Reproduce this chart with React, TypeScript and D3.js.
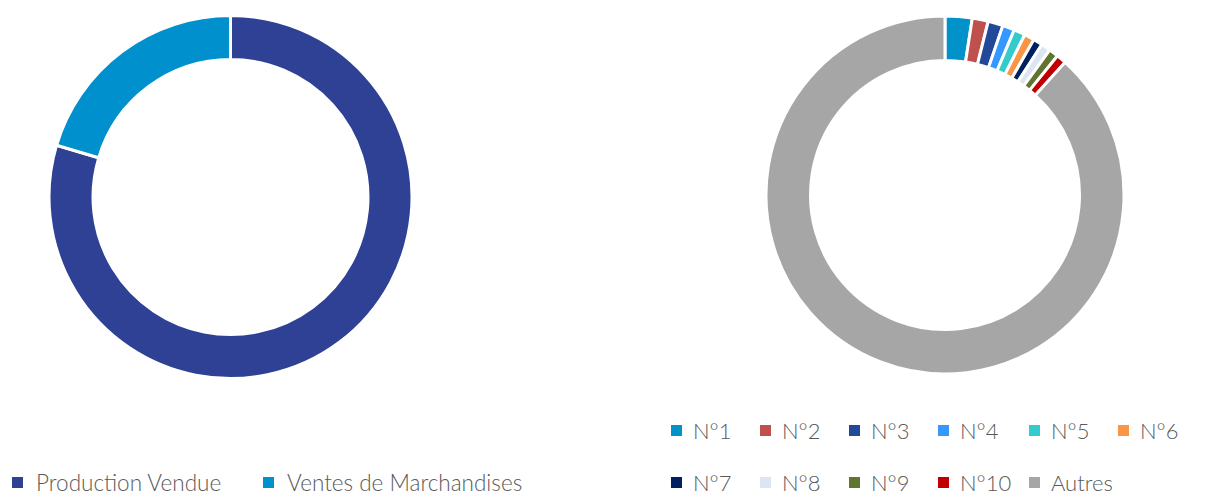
import React from "react";
import * as d3 from "d3";

const leftCategories = ["Production Vendue", "Ventes de Marchandises"];
const leftValues = [79.6, 20.4];
const leftColors = ["#2E4194", "#0090CD"];

const rightCategories = ["N°1", "N°2", "N°3", "N°4", "N°5", "N°6", "N°7", "N°8", "N°9", "N°10", "Autres"];
const rightValues = [2.44, 1.44, 1.36, 1.08, 1.03, 0.92, 0.83, 0.86, 0.86, 0.89, 88.29];
const rightColors = ["#0092C9", "#C0504D", "#22489A", "#3399FF", "#33CCCC", "#F79646", "#002060", "#DCE6F2", "#5F7530", "#C00000", "#A6A6A6"];

const FONT = "Lato, 'Open Sans', sans-serif";
const TEXT_COLOR = "#595959";

function Donut({ cx, cy, outer, inner, values, colors }: { cx: number; cy: number; outer: number; inner: number; values: number[]; colors: string[] }) {
  const pie = d3.pie<number>().sort(null).value((d) => d).startAngle(0).endAngle(2 * Math.PI);
  const arc = d3.arc<d3.PieArcDatum<number>>().innerRadius(inner).outerRadius(outer);
  const arcs = pie(values);
  return (
    <g transform={`translate(${cx},${cy})`}>
      {arcs.map((a, i) => (
        <path key={i} d={arc(a) || ""} fill={colors[i]} stroke="#ffffff" strokeWidth={3} strokeLinejoin="miter" />
      ))}
    </g>
  );
}

export default function App() {
  const colX = [671, 760, 849, 938, 1029, 1118];
  return (
    <svg width={1217} height={495} style={{ position: "absolute", left: 0, top: 0 }} fontFamily={FONT}>
      <rect width={1217} height={495} fill="#ffffff" />
      <Donut cx={230.5} cy={197} outer={181.5} inner={137.5} values={leftValues} colors={leftColors} />
      <Donut cx={945} cy={195} outer={179} inner={134.5} values={rightValues} colors={rightColors} />

      {/* left legend */}
      {leftCategories.map((c, i) => {
        const x = [12, 263][i];
        return (
          <g key={c}>
            <rect x={x} y={477} width={11} height={11} fill={leftColors[i]} />
            <text x={x + 24} y={491} fontSize={22.5} fontWeight={300} fill={TEXT_COLOR}>{c}</text>
          </g>
        );
      })}

      {/* right legend */}
      {rightCategories.map((c, i) => {
        const row = Math.floor(i / 6);
        const col = i % 6;
        const x = colX[col];
        const y = row === 0 ? 425 : 477;
        return (
          <g key={c}>
            <rect x={x} y={y} width={11} height={11} fill={rightColors[i]} />
            <text x={x + 22} y={y + 14} fontSize={22} fontWeight={300} fill={TEXT_COLOR}>{c}</text>
          </g>
        );
      })}
    </svg>
  );
}
